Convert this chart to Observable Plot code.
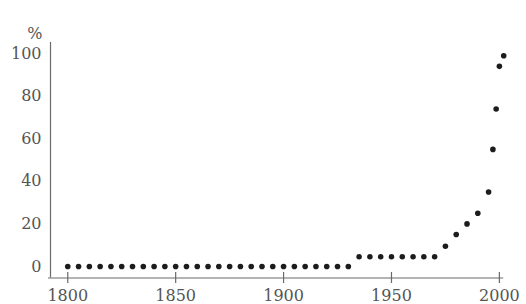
<!DOCTYPE html>
<html>
<head>
<meta charset="utf-8">
<script src="https://cdn.jsdelivr.net/npm/d3@7"></script>
<script src="https://cdn.jsdelivr.net/npm/@observablehq/plot@0.6"></script>
<style>
  html, body { margin: 0; padding: 0; background: #fff; }
  svg { display: block; }
</style>
</head>
<body>
<div id="chart"></div>
<script>
const years = [
  1800, 1805, 1810, 1815, 1820, 1825, 1830, 1835, 1840, 1845,
  1850, 1855, 1860, 1865, 1870, 1875, 1880, 1885, 1890, 1895,
  1900, 1905, 1910, 1915, 1920, 1925, 1930,
  1935, 1940, 1945, 1950, 1955, 1960, 1965, 1970,
  1975, 1980, 1985, 1990, 1995, 1997, 1998.5, 2000, 2002
];
const percents = [
  0, 0, 0, 0, 0, 0, 0, 0, 0, 0,
  0, 0, 0, 0, 0, 0, 0, 0, 0, 0,
  0, 0, 0, 0, 0, 0, 0,
  4.6, 4.6, 4.6, 4.6, 4.6, 4.6, 4.6, 4.6,
  9.5, 15, 20, 25, 35, 55, 74, 94, 99
];
const xTicks = [1800, 1850, 1900, 1950, 2000];
const yTicks = [0, 20, 40, 60, 80, 100];
const xDomain = [1792, 2002];
const yDomain = [-5.4, 105.2];
const yUnit = "%";

const data = years.map((y, i) => ({year: y, pct: percents[i]}));

const fontFamily = "'DejaVu Serif', serif";
const axisColor = "#6a6a6a";
const labelColor = "#555";

const chart = Plot.plot({
  width: 526,
  height: 304,
  marginLeft: 50,
  marginRight: 22.8,
  marginTop: 42,
  marginBottom: 26.5,
  style: {fontFamily, fontSize: "16px", background: "#fff"},
  x: {domain: xDomain, ticks: xTicks, label: null},
  y: {domain: yDomain, ticks: yTicks, label: null},
  marks: [
    Plot.ruleX([xDomain[0]], {stroke: axisColor, strokeWidth: 1.2}),
    Plot.ruleY([yDomain[0]], {stroke: axisColor, strokeWidth: 1.2, insetLeft: -2}),
    Plot.axisX({ticks: xTicks, tickSize: 11, dy: -5.5, tickFormat: () => "", stroke: axisColor, strokeWidth: 1.2, label: null}),
    Plot.axisX({ticks: xTicks, tickSize: 0, tickPadding: 12, tickFormat: d => String(d), fill: labelColor, fontSize: 16, label: null}),
    Plot.axisY({ticks: yTicks, tickSize: 0, tickPadding: 9, tickFormat: d => String(d), fill: labelColor, fontSize: 16, label: null}),
    Plot.text([yUnit], {frameAnchor: "top-left", dx: -8, dy: -15, textAnchor: "end", fill: labelColor, fontSize: 16}),
    Plot.dot(data, {x: "year", y: "pct", r: 2.8, fill: "#1c1c1c", stroke: null})
  ]
});
document.getElementById("chart").appendChild(chart);
</script>
</body>
</html>
